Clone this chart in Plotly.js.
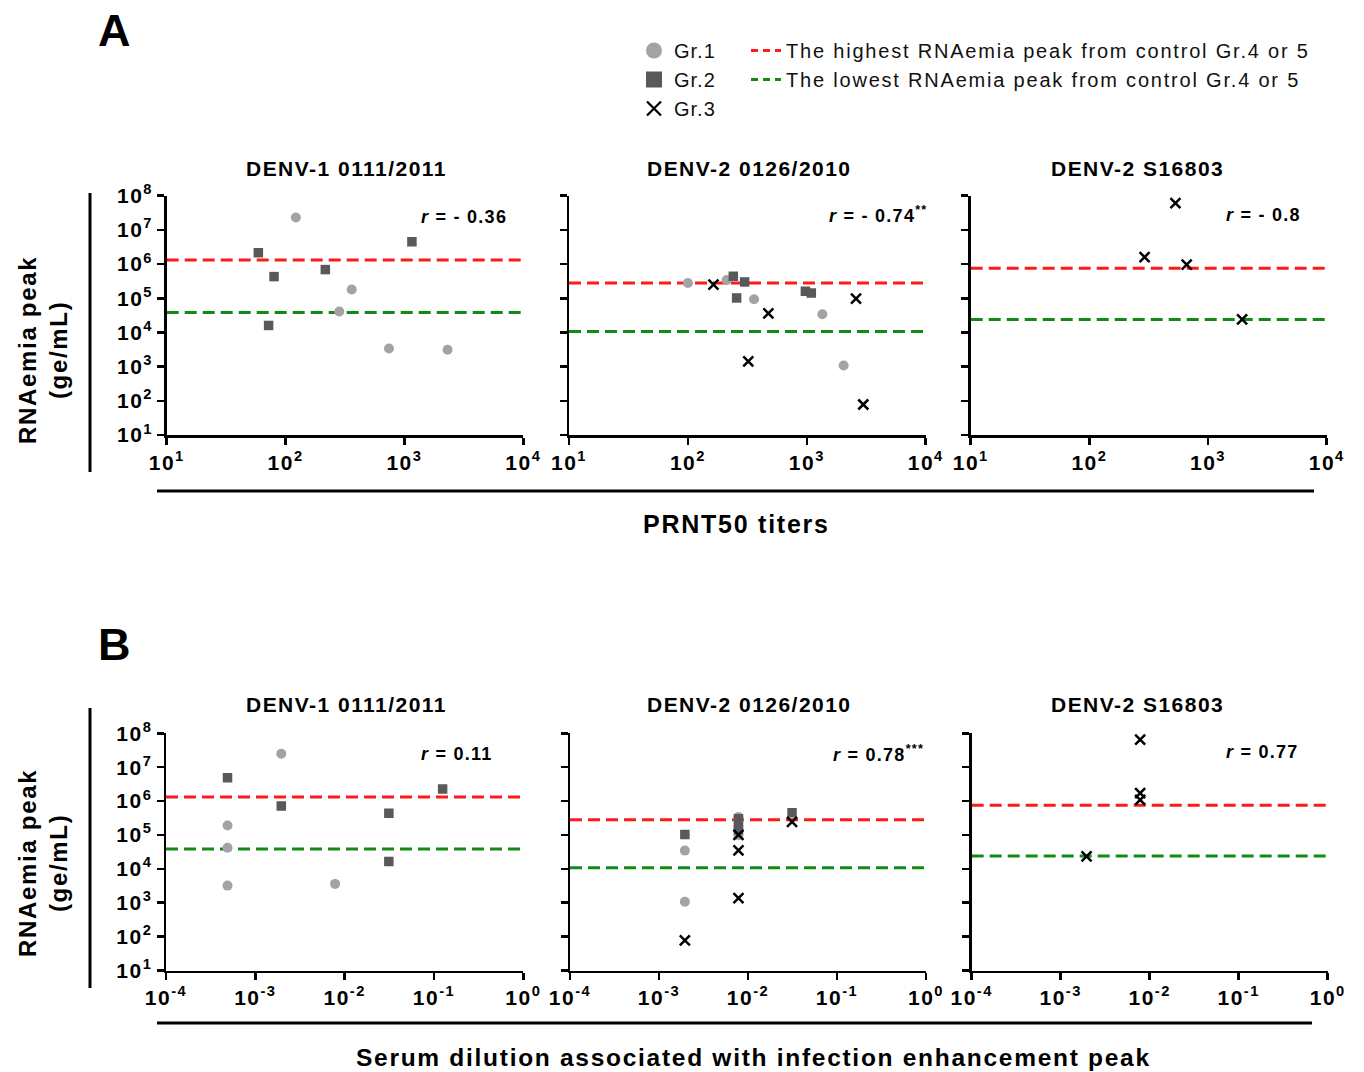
<!DOCTYPE html>
<html>
<head>
<meta charset="utf-8">
<script src="https://cdn.plot.ly/plotly-3.0.1.min.js"></script>
<style>
html,body{margin:0;padding:0;background:#fff;}
#chart{width:1364px;height:1072px;}
svg text{letter-spacing:0.07em;}
.legendtext{letter-spacing:0.05em;}
</style>
</head>
<body>
<div id="chart"></div>
<script>
// ---------- DATA ----------
// Panel A: x = PRNT50 titers, y = RNAemia peak (ge/mL)
const a1_gr1_x = [122, 360, 283, 741, 2306];
const a1_gr1_y = [2.3e7, 1.8e5, 4.1e4, 3.4e3, 3.1e3];
const a1_gr2_x = [59, 80, 72, 216, 1156];
const a1_gr2_y = [2.15e6, 4.3e5, 1.6e4, 6.9e5, 4.5e6];

const a2_gr1_x = [100, 212, 360, 1352, 2042];
const a2_gr1_y = [2.8e5, 3.4e5, 9.3e4, 3.4e4, 1.08e3];
const a2_gr2_x = [241, 300, 257, 973, 1091];
const a2_gr2_y = [4.4e5, 3.0e5, 1.02e5, 1.6e5, 1.43e5];
const a2_gr3_x = [164, 475, 322, 2594, 2986];
const a2_gr3_y = [2.5e5, 3.6e4, 1.42e3, 9.8e4, 78];

const a3_gr3_x = [531, 292, 661, 1937];
const a3_gr3_y = [6.1e7, 1.6e6, 9.6e5, 2.4e4];

// Panel B: x = serum dilution associated with infection enhancement peak
const b1_gr1_x = [1/512, 1/2048, 1/2048, 1/2048, 1/128];
const b1_gr1_y = [2.5e7, 1.9e5, 4.2e4, 3.2e3, 3.6e3];
const b1_gr2_x = [1/2048, 1/512, 1/32, 1/32, 1/8];
const b1_gr2_y = [4.9e6, 7.2e5, 4.4e5, 1.64e4, 2.28e6];

const b2_gr1_x = [1/512, 1/512, 1/128, 1/128, 1/128];
const b2_gr1_y = [3.45e4, 1.07e3, 9.8e4, 2.8e5, 3.4e5];
const b2_gr2_x = [1/512, 1/128, 1/128, 1/128, 1/32];
const b2_gr2_y = [1.03e5, 3.0e5, 1.66e5, 1.43e5, 4.5e5];
const b2_gr3_x = [1/512, 1/128, 1/128, 1/128, 1/32];
const b2_gr3_y = [77, 1.0e5, 3.5e4, 1.37e3, 2.44e5];

const b3_gr3_x = [1/128, 1/128, 1/128, 1/512];
const b3_gr3_y = [6.5e7, 1.72e6, 1.09e6, 2.35e4];

// Control thresholds (per virus strain)
const strains = ['DENV-1 0111/2011', 'DENV-2 0126/2010', 'DENV-2 S16803'];
const highestPeak = [1.32e6, 2.8e5, 7.5e5];
const lowestPeak = [3.85e4, 1.07e4, 2.4e4];
const lineNames = ['The highest RNAemia peak from control Gr.4 or 5', 'The lowest RNAemia peak from control Gr.4 or 5'];
const groupNames = ['Gr.1', 'Gr.2', 'Gr.3'];

// Correlation coefficients
const rA = ['- 0.36', '- 0.74<sup>**</sup>', '- 0.8'];
const rB = ['0.11', '0.78<sup>***</sup>', '0.77'];

// Ticks
const xTicksA = [10, 100, 1000, 10000];
const xTextA = ['10<sup>1</sup>', '10<sup>2</sup>', '10<sup>3</sup>', '10<sup>4</sup>'];
const xTicksB = [1e-4, 1e-3, 1e-2, 1e-1, 1];
const xTextB = ['10<sup>-4</sup>', '10<sup>-3</sup>', '10<sup>-2</sup>', '10<sup>-1</sup>', '10<sup>0</sup>'];
const yTicks = [1e1, 1e2, 1e3, 1e4, 1e5, 1e6, 1e7, 1e8];
const yText = ['10<sup>1</sup>', '10<sup>2</sup>', '10<sup>3</sup>', '10<sup>4</sup>', '10<sup>5</sup>', '10<sup>6</sup>', '10<sup>7</sup>', '10<sup>8</sup>'];

// ---------- LAYOUT HELPERS ----------
const W = 1364, H = 1072;
const px = v => v / W;
const py = v => 1 - v / H;
const FONT = 'Liberation Sans, Arial, Helvetica, sans-serif';

const C_GR1 = '#a3a3a5', C_GR2 = '#59595b', C_RED = '#ff1a1a', C_GREEN = '#138a13';

// panel pixel boxes [x0, x1, yTop, yBottom]
const boxes = [
  [166.7, 523.3, 195.7, 435],
  [569, 925.7, 195.7, 435],
  [970.7, 1326.7, 195.7, 435],
  [166, 523.3, 733.3, 970.5],
  [570, 926, 733.3, 970.5],
  [971.7, 1327.7, 733.3, 970.5]
];
const titleX = [346, 749, 1137, 346, 749, 1137];
const rPos = [[509, 217], [929, 214], [1303, 215], [495, 754], [926, 753], [1301, 752]];

const traces = [];
function sc(xs, ys, k, grp) {
  const ax = k === 1 ? '' : String(k);
  const t = {x: xs, y: ys, xaxis: 'x' + ax, yaxis: 'y' + ax, mode: 'markers', type: 'scatter', showlegend: false, hoverinfo: 'skip'};
  if (grp === 1) t.marker = {symbol: 'circle', size: 10, color: C_GR1};
  if (grp === 2) t.marker = {symbol: 'square', size: 9.5, color: C_GR2};
  if (grp === 3) t.marker = {symbol: 'x-thin', size: 10, color: 'black', line: {width: 2.5, color: 'black'}};
  traces.push(t);
}
function hl(k, v, color, xr) {
  const ax = k === 1 ? '' : String(k);
  traces.push({x: xr, y: [v, v], xaxis: 'x' + ax, yaxis: 'y' + ax, mode: 'lines', type: 'scatter', showlegend: false, hoverinfo: 'skip',
    line: {color: color, width: 3, dash: '12px,6px'}});
}

const xrA = [10, 10000], xrB = [1e-4, 1];
for (let i = 0; i < 3; i++) {
  hl(i + 1, highestPeak[i], C_RED, xrA);
  hl(i + 1, lowestPeak[i], C_GREEN, xrA);
  hl(i + 4, highestPeak[i], C_RED, xrB);
  hl(i + 4, lowestPeak[i], C_GREEN, xrB);
}
sc(a1_gr1_x, a1_gr1_y, 1, 1); sc(a1_gr2_x, a1_gr2_y, 1, 2);
sc(a2_gr1_x, a2_gr1_y, 2, 1); sc(a2_gr2_x, a2_gr2_y, 2, 2); sc(a2_gr3_x, a2_gr3_y, 2, 3);
sc(a3_gr3_x, a3_gr3_y, 3, 3);
sc(b1_gr1_x, b1_gr1_y, 4, 1); sc(b1_gr2_x, b1_gr2_y, 4, 2);
sc(b2_gr1_x, b2_gr1_y, 5, 1); sc(b2_gr2_x, b2_gr2_y, 5, 2); sc(b2_gr3_x, b2_gr3_y, 5, 3);
sc(b3_gr3_x, b3_gr3_y, 6, 3);

// legend-only entries
traces.push({x: [null], y: [null], mode: 'markers', type: 'scatter', name: groupNames[0], legend: 'legend', marker: {symbol: 'circle', size: 16, color: C_GR1}});
traces.push({x: [null], y: [null], mode: 'markers', type: 'scatter', name: groupNames[1], legend: 'legend', marker: {symbol: 'square', size: 16, color: C_GR2}});
traces.push({x: [null], y: [null], mode: 'markers', type: 'scatter', name: groupNames[2], legend: 'legend', marker: {symbol: 'x-thin', size: 14, color: 'black', line: {width: 2.2, color: 'black'}}});
traces.push({x: [null], y: [null], mode: 'lines', type: 'scatter', name: '<span style="letter-spacing:0.09em">' + lineNames[0] + '</span>', legend: 'legend2', line: {color: C_RED, width: 3, dash: '7px,5px'}});
traces.push({x: [null], y: [null], mode: 'lines', type: 'scatter', name: '<span style="letter-spacing:0.09em">' + lineNames[1] + '</span>', legend: 'legend2', line: {color: C_GREEN, width: 3, dash: '7px,5px'}});

const tickFont = {family: FONT, size: 21, weight: 'bold', color: 'black'};
const layout = {
  width: W, height: H,
  margin: {l: 0, r: 0, t: 0, b: 0},
  paper_bgcolor: 'white', plot_bgcolor: 'white',
  font: {family: FONT, color: 'black'},
  legend: {x: px(634), y: py(31), xanchor: 'left', yanchor: 'top', bgcolor: 'rgba(0,0,0,0)', borderwidth: 0,
    font: {family: FONT, size: 20, color: '#111'}, tracegroupgap: 0, itemwidth: 30},
  legend2: {x: px(746), y: py(31), xanchor: 'left', yanchor: 'top', bgcolor: 'rgba(0,0,0,0)', borderwidth: 0,
    font: {family: FONT, size: 20, color: '#111'}, tracegroupgap: 0, itemwidth: 30},
  annotations: [], shapes: []
};

for (let k = 1; k <= 6; k++) {
  const b = boxes[k - 1];
  const isA = k <= 3;
  const ax = k === 1 ? '' : String(k);
  layout['xaxis' + ax] = {
    domain: [px(b[0]), px(b[1])], anchor: 'y' + ax, type: 'log',
    range: isA ? [1, 4] : [-4, 0],
    tickvals: isA ? xTicksA : xTicksB, ticktext: isA ? xTextA : xTextB,
    showline: true, linecolor: 'black', linewidth: 2.5, ticks: 'outside', ticklen: 7, tickwidth: 2.5, tickcolor: 'black',
    showgrid: false, zeroline: false, tickfont: tickFont, fixedrange: true
  };
  layout['yaxis' + ax] = {
    domain: [py(b[3]), py(b[2])], anchor: 'x' + ax, type: 'log', range: [1, 8],
    tickvals: yTicks, ticktext: yText, showticklabels: (k === 1 || k === 4),
    showline: true, linecolor: 'black', linewidth: 2.5, ticks: 'outside', ticklen: 7, tickwidth: 2.5, tickcolor: 'black',
    showgrid: false, zeroline: false, tickfont: tickFont, fixedrange: true
  };
  // subplot title
  layout.annotations.push({xref: 'paper', yref: 'paper', x: px(titleX[k - 1]), y: py(isA ? 168 : 704),
    xanchor: 'center', yanchor: 'middle', showarrow: false,
    text: '<b>' + strains[(k - 1) % 3] + '</b>', font: {family: FONT, size: 21, color: 'black'}});
  // r annotation
  const rr = isA ? rA[k - 1] : rB[k - 4];
  layout.annotations.push({xref: 'paper', yref: 'paper', x: px(rPos[k - 1][0]), y: py(rPos[k - 1][1]),
    xanchor: 'right', yanchor: 'middle', showarrow: false,
    text: '<b><i>r</i> = ' + rr + '</b>', font: {family: FONT, size: 18, color: 'black'}});
}

// Panel letters
layout.annotations.push({xref: 'paper', yref: 'paper', x: px(96), y: py(30), xanchor: 'left', yanchor: 'middle', showarrow: false,
  text: '<b>A</b>', font: {family: FONT, size: 45, color: 'black'}});
layout.annotations.push({xref: 'paper', yref: 'paper', x: px(96), y: py(644), xanchor: 'left', yanchor: 'middle', showarrow: false,
  text: '<b>B</b>', font: {family: FONT, size: 45, color: 'black'}});

// Y titles
[350, 863].forEach(yc => {
  layout.annotations.push({xref: 'paper', yref: 'paper', x: px(43), y: py(yc), xanchor: 'center', yanchor: 'middle', showarrow: false,
    textangle: -90, text: '<b>RNAemia peak<br>(ge/mL)</b>', font: {family: FONT, size: 24, color: 'black'}});
});
// X titles
layout.annotations.push({xref: 'paper', yref: 'paper', x: px(736), y: py(524), xanchor: 'center', yanchor: 'middle', showarrow: false,
  text: '<b>PRNT50 titers</b>', font: {family: FONT, size: 25, color: 'black'}});
layout.annotations.push({xref: 'paper', yref: 'paper', x: px(754), y: py(1057), xanchor: 'center', yanchor: 'middle', showarrow: false,
  text: '<b>Serum dilution associated with infection enhancement peak</b>', font: {family: FONT, size: 24.5, color: 'black'}});

// decorative bracket lines
const lineStyle = {color: 'black', width: 3};
layout.shapes.push({type: 'line', xref: 'paper', yref: 'paper', x0: px(90), x1: px(90), y0: py(193), y1: py(472), line: lineStyle});
layout.shapes.push({type: 'line', xref: 'paper', yref: 'paper', x0: px(90), x1: px(90), y0: py(708), y1: py(988), line: lineStyle});
layout.shapes.push({type: 'line', xref: 'paper', yref: 'paper', x0: px(157), x1: px(1314), y0: py(491), y1: py(491), line: lineStyle});
layout.shapes.push({type: 'line', xref: 'paper', yref: 'paper', x0: px(157), x1: px(1312), y0: py(1023), y1: py(1023), line: lineStyle});

Plotly.newPlot('chart', traces, layout, {staticPlot: true, displayModeBar: false});
</script>
</body>
</html>
